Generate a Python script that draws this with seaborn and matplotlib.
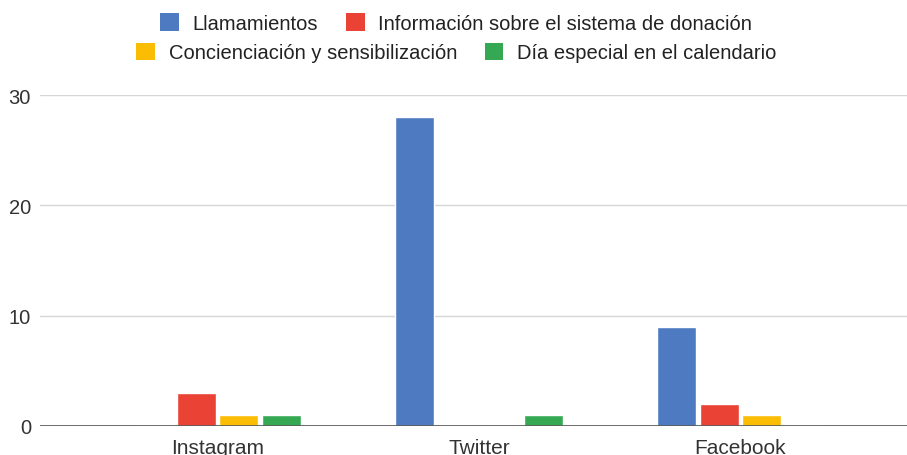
import matplotlib
matplotlib.use("Agg")
import matplotlib.pyplot as plt
import matplotlib.patches as mpatches
import seaborn as sns
import pandas as pd

categorias = ["Instagram", "Twitter", "Facebook"]
series = ["Llamamientos",
          "Información sobre el sistema de donación",
          "Concienciación y sensibilización",
          "Día especial en el calendario"]
llamamientos = [0, 28, 9]
informacion = [3, 0, 2]
concienciacion = [1, 0, 1]
dia_especial = [1, 1, 0]
colores = ["#4e7ac1", "#ea4335", "#fbbc04", "#34a853"]
y_ticks = [0, 10, 20, 30]

valores = [llamamientos, informacion, concienciacion, dia_especial]
rows = []
for s, vals in zip(series, valores):
    for c, v in zip(categorias, vals):
        rows.append({"red": c, "serie": s, "valor": v})
df = pd.DataFrame(rows)

sns.set_theme(style="white")
plt.rcParams["font.family"] = ["Liberation Sans", "DejaVu Sans"]

fig = plt.figure(figsize=(9.07, 4.56), dpi=100)
ax = fig.add_axes([40 / 907, 29 / 456, 867 / 907, 331 / 456])

sns.barplot(data=df, x="red", y="valor", hue="serie", hue_order=series,
            order=categorias, palette=colores, width=0.653, gap=0.087,
            errorbar=None, legend=False, ax=ax, saturation=1)

ax.set_xlim(-0.679, 2.637)
ax.set_ylim(0, 30)
ax.set_yticks(y_ticks)
ax.set_xlabel("")
ax.set_ylabel("")
for sp in ax.spines.values():
    sp.set_visible(False)
ax.set_axisbelow(True)
ax.yaxis.grid(True, color="#d6d6d6", lw=1)
ax.xaxis.grid(False)
ax.axhline(0, color="#555555", lw=1.2, zorder=5)
ax.tick_params(axis="both", length=0, colors="#333333")
ax.tick_params(axis="x", pad=8.5, labelsize=15)
ax.tick_params(axis="y", pad=6.5, labelsize=14.5)

handles = [mpatches.Patch(facecolor=c, edgecolor="none", label=s)
           for c, s in zip(colores, series)]
leg_kw = dict(loc="center", ncol=2, frameon=False, fontsize=14.5,
              handlelength=0.93, handleheight=0.93, handletextpad=0.69,
              columnspacing=1.37, borderpad=0, borderaxespad=0,
              labelcolor="#222222")
fig.legend(handles=handles[:2], bbox_to_anchor=(0.503, 0.947), **leg_kw)
fig.legend(handles=handles[2:], bbox_to_anchor=(0.503, 0.883), **leg_kw)

fig.savefig("out.png", dpi=100)
